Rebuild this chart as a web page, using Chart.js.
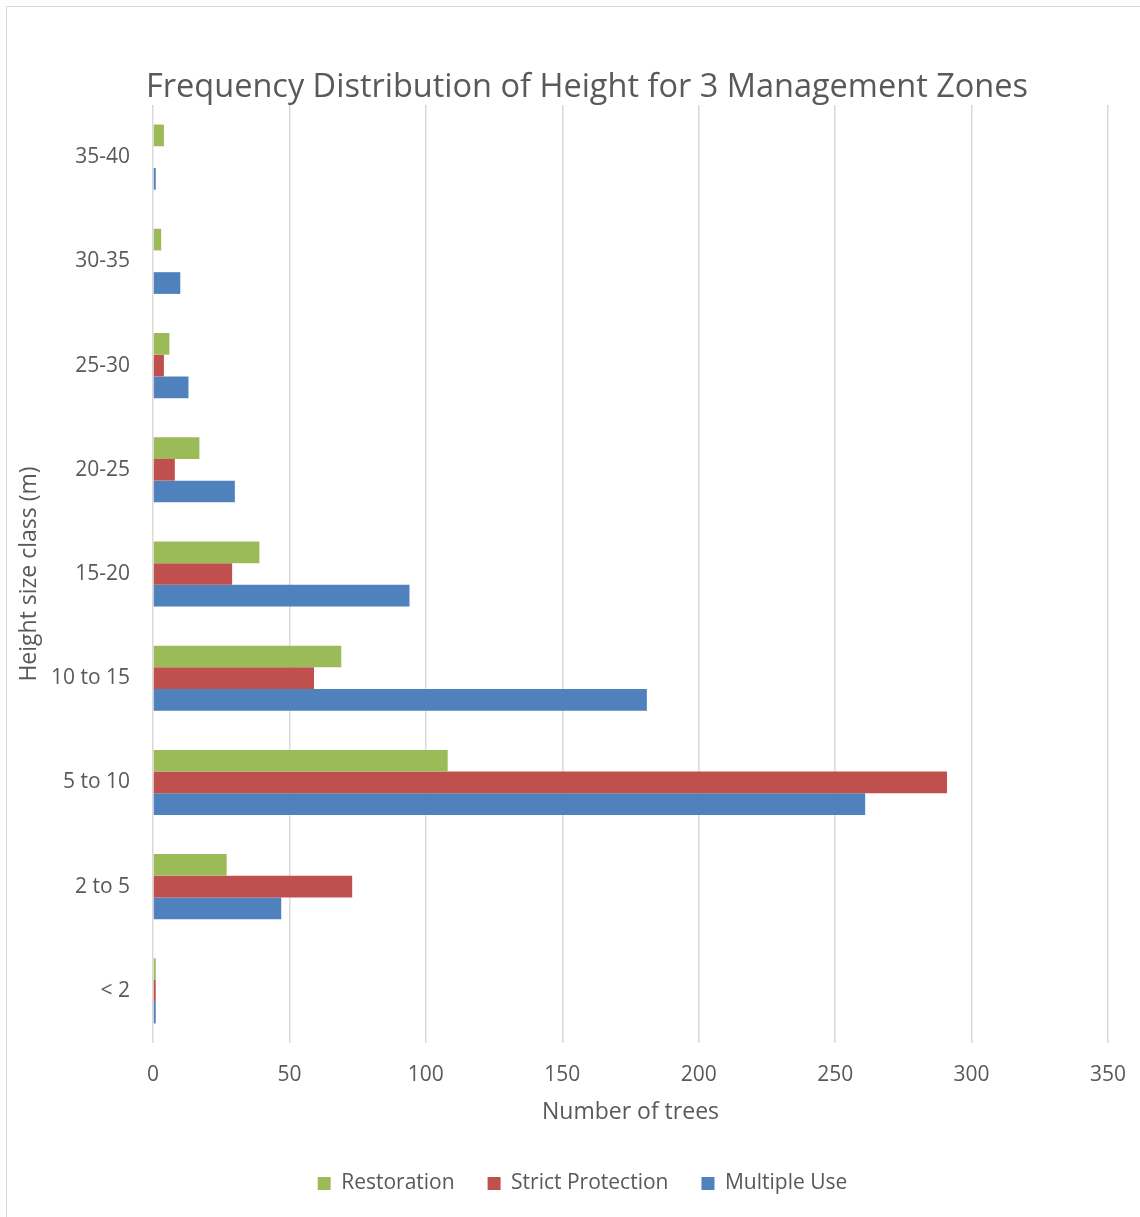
<!DOCTYPE html>
<html>
<head>
<meta charset="utf-8">
<script src="https://cdn.jsdelivr.net/npm/chart.js@4/dist/chart.umd.min.js"></script>
<style>
  html, body { margin: 0; padding: 0; background: #fff; overflow: hidden; }
  #frame {
    position: absolute; left: 6px; top: 6px;
    width: 1140px; height: 1217px;
    border-left: 1px solid #d9d9d9; border-top: 1px solid #d9d9d9;
  }
  #box { position: absolute; left: 7px; top: 7px; width: 1133px; height: 1210px; }
</style>
</head>
<body>
<div id="frame"></div>
<div id="box"><canvas id="bars"></canvas></div>
<script>
// height classes, top to bottom
const heightClasses = ['35-40', '30-35', '25-30', '20-25', '15-20', '10 to 15', '5 to 10', '2 to 5', '< 2'];

// number of trees per zone
const restoration = [4, 3, 6, 17, 39, 69, 108, 27, 1];
const strictProtection = [0, 0, 4, 8, 29, 59, 291, 73, 1];
const multipleUse = [1, 10, 13, 30, 94, 181, 261, 47, 1];

const xTicks = [0, 50, 100, 150, 200, 250, 300, 350];

const FONT = '"Open Sans", sans-serif';
const GREY = '#595959';

const data = {
  labels: heightClasses,
  datasets: [
    { label: 'Restoration', data: restoration, backgroundColor: '#9bbb59' },
    { label: 'Strict Protection', data: strictProtection, backgroundColor: '#c0504d' },
    { label: 'Multiple Use', data: multipleUse, backgroundColor: '#4f81bd' }
  ]
};

// excel centres title and legend a bit to the right of the canvas middle
const nudgeBlocks = {
  id: 'nudgeBlocks',
  afterLayout(chart) {
    chart.titleBlock.left += 59;
    chart.legend.left += 25;
    chart.legend.right += 25;
  }
};

const config = {
  type: 'bar',
  data: data,
  plugins: [nudgeBlocks],
  options: {
    indexAxis: 'y',
    responsive: true,
    maintainAspectRatio: false,
    animation: false,
    categoryPercentage: 0.625,
    barPercentage: 1.0,
    layout: { padding: { left: 0, right: 32, bottom: 13 } },
    plugins: {
      title: {
        display: true,
        text: 'Frequency Distribution of Height for 3 Management Zones',
        color: GREY,
        font: { family: FONT, size: 32.5, weight: 'normal' },
        padding: { top: 61, bottom: -2 }
      },
      legend: {
        position: 'bottom',
        labels: {
          color: GREY,
          font: { family: FONT, size: 21 },
          boxWidth: 13,
          boxHeight: 13,
          padding: 33
        }
      },
      tooltip: { enabled: false }
    },
    scales: {
      x: {
        min: 0,
        max: 350,
        afterBuildTicks: function (axis) {
          axis.ticks = xTicks.map(v => ({ value: v }));
        },
        afterFit: function (axis) {
          axis.height = 97;
          axis.paddingRight = 0;
        },
        grid: { color: '#d9d9d9', lineWidth: 1.5, drawTicks: false },
        border: { display: false },
        ticks: { color: GREY, font: { family: FONT, size: 21 }, padding: 19 },
        title: {
          display: true,
          text: 'Number of trees',
          color: GREY,
          font: { family: FONT, size: 23 },
          padding: { top: 0, bottom: 14 }
        }
      },
      y: {
        afterFit: function (axis) { axis.width = 146; },
        grid: { display: false, drawTicks: false },
        border: { display: false },
        ticks: { color: GREY, font: { family: FONT, size: 21 }, padding: 23 },
        title: {
          display: true,
          text: 'Height size class (m)',
          color: GREY,
          font: { family: FONT, size: 23 },
          padding: { top: 9, bottom: 0 }
        }
      }
    }
  }
};

document.addEventListener('DOMContentLoaded', function () {
  const ctx = document.getElementById('bars').getContext('2d');
  new Chart(ctx, config);
});
</script>
</body>
</html>
